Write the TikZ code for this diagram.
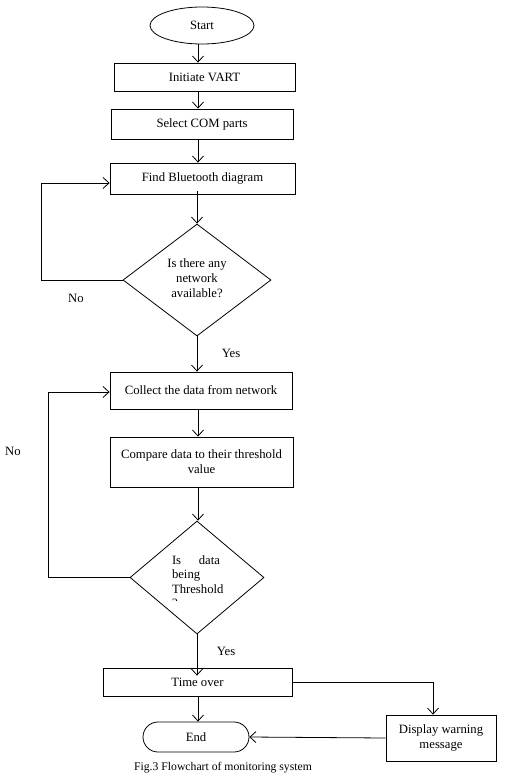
\documentclass[tikz,border=0pt]{standalone}
\usepackage{fontspec}
\setmainfont{Liberation Serif}
\usetikzlibrary{shapes.geometric,arrows.meta}
\begin{document}
\begin{tikzpicture}[x=1pt,y=-1pt,
  every node/.style={font=\fontsize{12.7}{15}\selectfont},
  box/.style={draw,line width=0.8pt,inner sep=0pt,align=center},
  dia/.style={draw,diamond,line width=0.8pt,inner sep=0pt},
  arr/.style={draw,line width=0.8pt,-{Straight Barb[length=6pt,width=11pt,line width=0.8pt]}},
  ln/.style={draw,line width=0.8pt},
  lbl/.style={inner sep=0pt}]
\useasboundingbox (0,0) rectangle (510,782);
\fill[white] (0,0) rectangle (510,782);
\coordinate (axis) at (198,0);
\coordinate (loopa) at (41,0);
\coordinate (loopb) at (48,0);
\node[box,ellipse,minimum width=104pt,minimum height=37pt] (start) at (202,25.5) {Start};
\node[box,minimum width=181pt,minimum height=28pt] (init) at (204.5,77) {Initiate VART};
\node[box,minimum width=182pt,minimum height=30pt] (sel) at (202,124) {Select COM parts};
\node[box,minimum width=185pt,minimum height=31pt] (find) at (202.5,178.5) {Find Bluetooth diagram};
\node[dia,minimum width=148pt,minimum height=112pt] (d1) at (197,280) {};
\node[lbl,align=center] (d1t) at (197,278) {Is there any\\network\\available?};
\node[box,minimum width=182pt,minimum height=37pt] (col) at (201,390.5) {Collect the data from network};
\node[box,minimum width=183pt,minimum height=50pt] (cmp) at (201.5,462) {Compare data to their threshold\\value};
\node[dia,minimum width=134pt,minimum height=113pt] (d2) at (197,577.5) {};
\begin{scope}
\clip (150,540) rectangle (250,600);
\node[lbl,align=left,anchor=north] (d2t) at (196,555) {\parbox{48pt}{\lineskiplimit=-10pt\baselineskip=14.5pt Is\hfill data\\being\\Threshold\\?}};
\end{scope}
\node[box,minimum width=189pt,minimum height=28pt] (time) at (197.5,682) {Time over};
\node[box,rounded corners=15pt,minimum width=106pt,minimum height=30pt] (end) at (196,737) {End};
\node[box,minimum width=110pt,minimum height=46pt] (disp) at (441,738) {Display warning\\message};
\node[lbl] (no1) at (76,298) {No};
\node[lbl] (yes1) at (231,353) {Yes};
\node[lbl] (no2) at (13,451) {No};
\node[lbl] (yes2) at (226,651) {Yes};
\node[lbl,font=\fontsize{11.7}{14}\selectfont] (cap) at (223,768) {Fig.3 Flowchart of monitoring system};
% connectors
\draw[arr] (start.south -| axis) -- (init.north -| axis);
\draw[arr] (init.south -| axis) -- (sel.north -| axis);
\draw[arr] (sel.south -| axis) -- (find.north -| axis);
\draw[arr] ([yshift=3pt]find.south -| d1.north) -- (d1.north);
\draw[ln] (d1.west) -- (d1.west -| loopa);
\draw[arr] (d1.west -| loopa) |- ([yshift=-4.5pt]find.west);
\draw[arr] (d1.south) -- (col.north -| d1.south);
\draw[arr] (col.south -| axis) -- (cmp.north -| axis);
\draw[arr] (cmp.south -| axis) -- (d2.north -| axis);
\draw[ln] (d2.west) -- (d2.west -| loopb);
\draw[arr] (d2.west -| loopb) |- ([yshift=-1.5pt]col.west);
\draw[arr] (d2.south) -- ([yshift=-8pt]time.north -| d2.south);
\draw[arr] (time.south -| axis) -- (end.north -| axis);
\draw[arr] (time.east) -| ([xshift=-8pt]disp.north);
\draw[arr] (disp.west) -- (end.east);
\end{tikzpicture}
\end{document}
